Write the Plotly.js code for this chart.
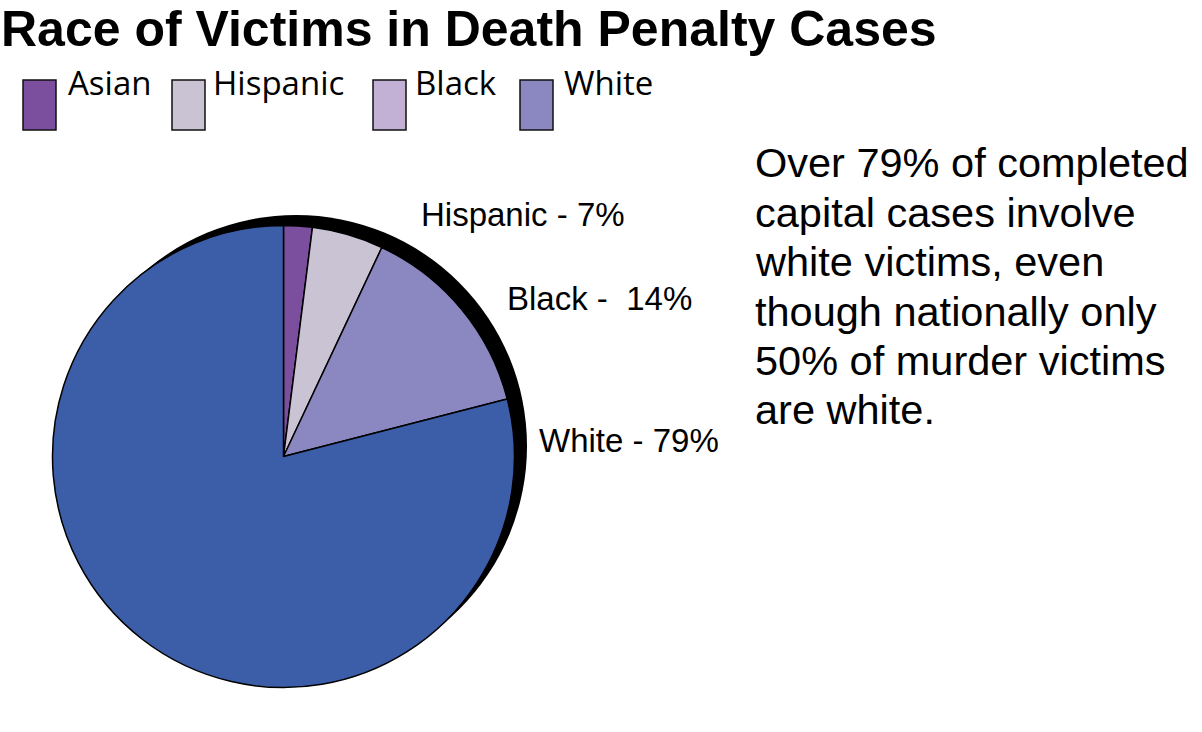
<!DOCTYPE html>
<html>
<head>
<meta charset="utf-8">
<script src="https://cdn.plot.ly/plotly-3.0.1.min.js"></script>
<style>html,body{margin:0;padding:0;background:#fff;}#chart{width:1202px;height:732px;}</style>
</head>
<body>
<div id="chart"></div>
<script>
// ---- data ----
var categories = ["Asian", "Hispanic", "Black", "White"];
var values = [2, 5, 14, 79];
var sliceColors = ["#7b4f9e", "#c9c3d4", "#8b87c1", "#3c5ea8"];
var legendColors = ["#7b4f9e", "#c9c3d4", "#c2b0d5", "#8b87c1"];
var sliceLabels = ["Hispanic - 7%", "Black -  14%", "White - 79%"];
var noteLines = ["Over 79% of completed", "capital cases involve", "white victims, even",
                 "though nationally only", "50% of murder victims", "are white."];
var chartTitle = "Race of Victims in Death Penalty Cases";

// ---- layout helpers (pixel -> paper) ----
var W = 1202, H = 732;
function px(x) { return x / W; }
function py(y) { return 1 - y / H; }

var cx = 283.5, cy = 456.5, R = 231;
var shadowDx = 12.5, shadowDy = -10.5;

var trace = {
  type: "pie",
  labels: categories,
  values: values,
  sort: false,
  direction: "clockwise",
  rotation: 0,
  textinfo: "none",
  hoverinfo: "label+percent",
  showlegend: false,
  marker: { colors: sliceColors, line: { color: "#000", width: 1.5 } },
  domain: { x: [px(cx - R), px(cx + R)], y: [py(cy + R), py(cy - R)] }
};

var shapes = [{
  type: "circle", layer: "below", xref: "paper", yref: "paper",
  x0: px(cx + shadowDx - R), x1: px(cx + shadowDx + R),
  y0: py(cy + shadowDy + R), y1: py(cy + shadowDy - R),
  fillcolor: "#000", line: { width: 0 }
}];

var annotations = [];
var swX = [23, 172, 373, 520], txtX = [66, 211, 413, 562];
for (var i = 0; i < categories.length; i++) {
  shapes.push({
    type: "rect", xref: "paper", yref: "paper",
    x0: px(swX[i]), x1: px(swX[i] + 33), y0: py(130), y1: py(80),
    fillcolor: legendColors[i], line: { color: "#111", width: 1.5 }
  });
  annotations.push({
    xref: "paper", yref: "paper", x: px(txtX[i]), y: py(83),
    xanchor: "left", yanchor: "middle", showarrow: false,
    text: categories[i], font: { family: "Open Sans", size: 33, color: "#000" }
  });
}

var labX = [419, 505, 537], labY = [214, 299, 441];
for (var j = 0; j < sliceLabels.length; j++) {
  annotations.push({
    xref: "paper", yref: "paper", x: px(labX[j]), y: py(labY[j]),
    xanchor: "left", yanchor: "middle", showarrow: false,
    text: sliceLabels[j], font: { family: "Liberation Sans", size: 33, color: "#000" }
  });
}

for (var k = 0; k < noteLines.length; k++) {
  annotations.push({
    xref: "paper", yref: "paper", x: px(753), y: py(163 + k * 49.4),
    xanchor: "left", yanchor: "middle", showarrow: false,
    text: noteLines[k], font: { family: "Liberation Sans", size: 41.5, color: "#000" }
  });
}

var layout = {
  width: W, height: H,
  margin: { l: 0, r: 0, t: 0, b: 0 },
  paper_bgcolor: "#fff",
  title: {
    text: "<b>" + chartTitle + "</b>",
    x: px(1), xanchor: "left", xref: "paper",
    y: py(28), yanchor: "middle", yref: "container",
    font: { family: "Liberation Sans", size: 50, color: "#000" }
  },
  shapes: shapes,
  annotations: annotations,
  showlegend: false
};

Plotly.newPlot("chart", [trace], layout, { displayModeBar: false, staticPlot: true });
</script>
</body>
</html>
